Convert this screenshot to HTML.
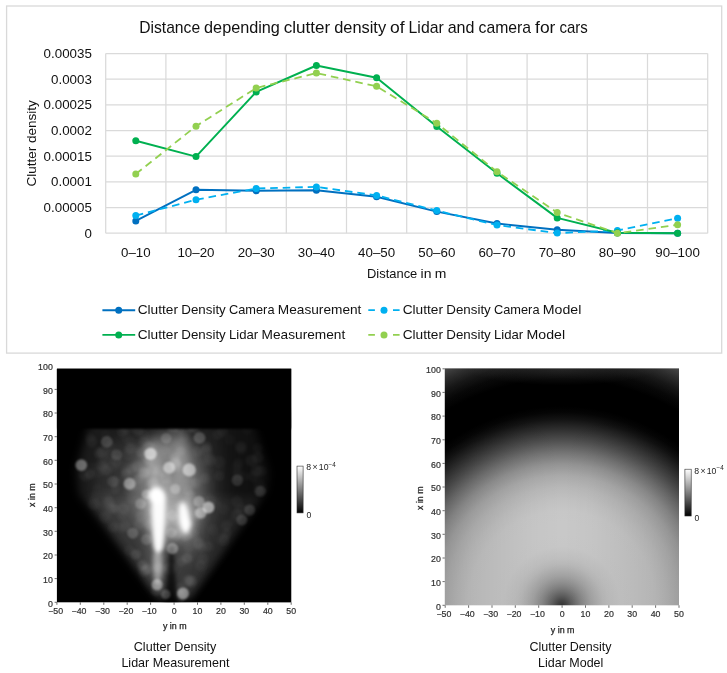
<!DOCTYPE html>
<html lang="en"><head><meta charset="utf-8"><title>Distance depending clutter density of Lidar and camera for cars</title>
<style>html,body{margin:0;padding:0;background:#fff}svg{display:block}text{font-family:"Liberation Sans",Arial,sans-serif}</style></head><body>
<svg width="727" height="673" viewBox="0 0 727 673">
<defs>
<radialGradient id="gm" gradientUnits="userSpaceOnUse" cx="561.8" cy="605.3" r="277.9">
<stop offset="0.0000" stop-color="rgb(51,51,51)"/>
<stop offset="0.0169" stop-color="rgb(69,69,69)"/>
<stop offset="0.0339" stop-color="rgb(92,92,92)"/>
<stop offset="0.0508" stop-color="rgb(112,112,112)"/>
<stop offset="0.0678" stop-color="rgb(130,130,130)"/>
<stop offset="0.0847" stop-color="rgb(145,145,145)"/>
<stop offset="0.1059" stop-color="rgb(161,161,161)"/>
<stop offset="0.1271" stop-color="rgb(173,173,173)"/>
<stop offset="0.1483" stop-color="rgb(184,184,184)"/>
<stop offset="0.1695" stop-color="rgb(191,191,191)"/>
<stop offset="0.2119" stop-color="rgb(199,199,199)"/>
<stop offset="0.2542" stop-color="rgb(200,200,200)"/>
<stop offset="0.2966" stop-color="rgb(200,200,200)"/>
<stop offset="0.3390" stop-color="rgb(199,199,199)"/>
<stop offset="0.3814" stop-color="rgb(193,193,193)"/>
<stop offset="0.4237" stop-color="rgb(184,184,184)"/>
<stop offset="0.4661" stop-color="rgb(170,170,170)"/>
<stop offset="0.5085" stop-color="rgb(147,147,147)"/>
<stop offset="0.5508" stop-color="rgb(115,115,115)"/>
<stop offset="0.5932" stop-color="rgb(79,79,79)"/>
<stop offset="0.6356" stop-color="rgb(45,45,45)"/>
<stop offset="0.6695" stop-color="rgb(19,19,19)"/>
<stop offset="0.6949" stop-color="rgb(5,5,5)"/>
<stop offset="0.7161" stop-color="rgb(0,0,0)"/>
<stop offset="0.8136" stop-color="rgb(0,0,0)"/>
<stop offset="0.8475" stop-color="rgb(9,9,9)"/>
<stop offset="0.8814" stop-color="rgb(26,26,26)"/>
<stop offset="0.9153" stop-color="rgb(51,51,51)"/>
<stop offset="0.9492" stop-color="rgb(82,82,82)"/>
<stop offset="1.0000" stop-color="rgb(117,117,117)"/>
</radialGradient>
<linearGradient id="cb" x1="0" y1="0" x2="0" y2="1"><stop offset="0" stop-color="#fff"/><stop offset="1" stop-color="#000"/></linearGradient>
<radialGradient id="tg"><stop offset="0" stop-color="#fff" stop-opacity="0.12"/><stop offset="1" stop-color="#fff" stop-opacity="0"/></radialGradient>
<linearGradient id="sd" x1="0" y1="0" x2="1" y2="0"><stop offset="0" stop-color="#000" stop-opacity="0.14"/><stop offset="0.12" stop-color="#000" stop-opacity="0.09"/><stop offset="0.25" stop-color="#000" stop-opacity="0.05"/><stop offset="0.38" stop-color="#000" stop-opacity="0.015"/><stop offset="0.5" stop-color="#000" stop-opacity="0"/><stop offset="0.62" stop-color="#000" stop-opacity="0.015"/><stop offset="0.75" stop-color="#000" stop-opacity="0.05"/><stop offset="0.88" stop-color="#000" stop-opacity="0.09"/><stop offset="1" stop-color="#000" stop-opacity="0.14"/></linearGradient>
<linearGradient id="rf" x1="0" y1="0" x2="1" y2="0"><stop offset="0" stop-color="#000" stop-opacity="0"/><stop offset="0.2" stop-color="#000" stop-opacity="0.12"/><stop offset="0.42" stop-color="#000" stop-opacity="0.36"/><stop offset="1" stop-color="#000" stop-opacity="0.5"/></linearGradient>
<clipPath id="cr"><rect x="444.8" y="368.4" width="234.2" height="236.9"/></clipPath>
<clipPath id="cl"><rect x="56.9" y="368.7" width="234.3" height="233.6"/></clipPath>
<filter id="b1" color-interpolation-filters="sRGB" x="-20%" y="-20%" width="140%" height="140%"><feGaussianBlur stdDeviation="1"/></filter>
<filter id="b13" color-interpolation-filters="sRGB" x="-20%" y="-20%" width="140%" height="140%"><feGaussianBlur stdDeviation="1.3"/></filter>
<filter id="b16" color-interpolation-filters="sRGB" x="-20%" y="-20%" width="140%" height="140%"><feGaussianBlur stdDeviation="1.6"/></filter>
<filter id="b2" color-interpolation-filters="sRGB" x="-20%" y="-20%" width="140%" height="140%"><feGaussianBlur stdDeviation="2.2"/></filter>
<filter id="b4" color-interpolation-filters="sRGB" x="-20%" y="-20%" width="140%" height="140%"><feGaussianBlur stdDeviation="4"/></filter>
<filter id="b6" color-interpolation-filters="sRGB" x="-20%" y="-20%" width="140%" height="140%"><feGaussianBlur stdDeviation="5.5"/></filter>
<filter id="b8" color-interpolation-filters="sRGB" x="-30%" y="-30%" width="160%" height="160%"><feGaussianBlur stdDeviation="8"/></filter>
</defs>
<rect width="727" height="673" fill="#fff"/>
<g id="chart">
<rect x="6.6" y="6" width="715.1" height="347.1" fill="#fff" stroke="#d9d9d9" stroke-width="1.3"/>
<g stroke="#dadada" stroke-width="1.25" fill="none">
<line x1="105.7" y1="53.50" x2="707.7" y2="53.50"/>
<line x1="105.7" y1="79.17" x2="707.7" y2="79.17"/>
<line x1="105.7" y1="104.84" x2="707.7" y2="104.84"/>
<line x1="105.7" y1="130.51" x2="707.7" y2="130.51"/>
<line x1="105.7" y1="156.19" x2="707.7" y2="156.19"/>
<line x1="105.7" y1="181.86" x2="707.7" y2="181.86"/>
<line x1="105.7" y1="207.53" x2="707.7" y2="207.53"/>
<line x1="105.7" y1="233.20" x2="707.7" y2="233.20"/>
<line x1="105.70" y1="53.5" x2="105.70" y2="233.2"/>
<line x1="165.90" y1="53.5" x2="165.90" y2="233.2"/>
<line x1="226.10" y1="53.5" x2="226.10" y2="233.2"/>
<line x1="286.30" y1="53.5" x2="286.30" y2="233.2"/>
<line x1="346.50" y1="53.5" x2="346.50" y2="233.2"/>
<line x1="406.70" y1="53.5" x2="406.70" y2="233.2"/>
<line x1="466.90" y1="53.5" x2="466.90" y2="233.2"/>
<line x1="527.10" y1="53.5" x2="527.10" y2="233.2"/>
<line x1="587.30" y1="53.5" x2="587.30" y2="233.2"/>
<line x1="647.50" y1="53.5" x2="647.50" y2="233.2"/>
<line x1="707.70" y1="53.5" x2="707.70" y2="233.2"/>
</g>
<polyline points="135.8,220.9 196.0,189.8 256.2,190.8 316.4,190.2 376.6,196.8 436.8,211.6 497.0,223.5 557.2,229.8 617.4,233.0 677.6,233.2" fill="none" stroke="#0070c0" stroke-width="1.95" stroke-linejoin="round" stroke-linecap="round"/>
<circle cx="135.8" cy="220.9" r="3.5" fill="#0070c0"/>
<circle cx="196.0" cy="189.8" r="3.5" fill="#0070c0"/>
<circle cx="256.2" cy="190.8" r="3.5" fill="#0070c0"/>
<circle cx="316.4" cy="190.2" r="3.5" fill="#0070c0"/>
<circle cx="376.6" cy="196.8" r="3.5" fill="#0070c0"/>
<circle cx="436.8" cy="211.6" r="3.5" fill="#0070c0"/>
<circle cx="497.0" cy="223.5" r="3.5" fill="#0070c0"/>
<circle cx="557.2" cy="229.8" r="3.5" fill="#0070c0"/>
<circle cx="617.4" cy="233.0" r="3.5" fill="#0070c0"/>
<circle cx="677.6" cy="233.2" r="3.5" fill="#0070c0"/>
<polyline points="135.8,215.6 196.0,199.7 256.2,188.5 316.4,186.9 376.6,195.4 436.8,210.6 497.0,225.1 557.2,233.1 617.4,230.5 677.6,218.2" fill="none" stroke="#00b0f0" stroke-width="1.8" stroke-linejoin="round" stroke-linecap="butt" stroke-dasharray="7.6 4.9"/>
<circle cx="135.8" cy="215.6" r="3.5" fill="#00b0f0"/>
<circle cx="196.0" cy="199.7" r="3.5" fill="#00b0f0"/>
<circle cx="256.2" cy="188.5" r="3.5" fill="#00b0f0"/>
<circle cx="316.4" cy="186.9" r="3.5" fill="#00b0f0"/>
<circle cx="376.6" cy="195.4" r="3.5" fill="#00b0f0"/>
<circle cx="436.8" cy="210.6" r="3.5" fill="#00b0f0"/>
<circle cx="497.0" cy="225.1" r="3.5" fill="#00b0f0"/>
<circle cx="557.2" cy="233.1" r="3.5" fill="#00b0f0"/>
<circle cx="617.4" cy="230.5" r="3.5" fill="#00b0f0"/>
<circle cx="677.6" cy="218.2" r="3.5" fill="#00b0f0"/>
<polyline points="135.8,140.8 196.0,156.6 256.2,91.9 316.4,65.5 376.6,77.7 436.8,126.6 497.0,173.3 557.2,217.9 617.4,232.8 677.6,233.2" fill="none" stroke="#00b050" stroke-width="1.95" stroke-linejoin="round" stroke-linecap="round"/>
<circle cx="135.8" cy="140.8" r="3.5" fill="#00b050"/>
<circle cx="196.0" cy="156.6" r="3.5" fill="#00b050"/>
<circle cx="256.2" cy="91.9" r="3.5" fill="#00b050"/>
<circle cx="316.4" cy="65.5" r="3.5" fill="#00b050"/>
<circle cx="376.6" cy="77.7" r="3.5" fill="#00b050"/>
<circle cx="436.8" cy="126.6" r="3.5" fill="#00b050"/>
<circle cx="497.0" cy="173.3" r="3.5" fill="#00b050"/>
<circle cx="557.2" cy="217.9" r="3.5" fill="#00b050"/>
<circle cx="617.4" cy="232.8" r="3.5" fill="#00b050"/>
<circle cx="677.6" cy="233.2" r="3.5" fill="#00b050"/>
<polyline points="135.8,174.0 196.0,126.2 256.2,88.0 316.4,73.1 376.6,86.3 436.8,123.3 497.0,171.7 557.2,212.6 617.4,233.2 677.6,224.8" fill="none" stroke="#92d050" stroke-width="1.8" stroke-linejoin="round" stroke-linecap="butt" stroke-dasharray="7.6 4.9"/>
<circle cx="135.8" cy="174.0" r="3.5" fill="#92d050"/>
<circle cx="196.0" cy="126.2" r="3.5" fill="#92d050"/>
<circle cx="256.2" cy="88.0" r="3.5" fill="#92d050"/>
<circle cx="316.4" cy="73.1" r="3.5" fill="#92d050"/>
<circle cx="376.6" cy="86.3" r="3.5" fill="#92d050"/>
<circle cx="436.8" cy="123.3" r="3.5" fill="#92d050"/>
<circle cx="497.0" cy="171.7" r="3.5" fill="#92d050"/>
<circle cx="557.2" cy="212.6" r="3.5" fill="#92d050"/>
<circle cx="617.4" cy="233.2" r="3.5" fill="#92d050"/>
<circle cx="677.6" cy="224.8" r="3.5" fill="#92d050"/>
<text y="33.1" font-size="15.9" fill="#111" ><tspan x="139.2" textLength="60.9" lengthAdjust="spacingAndGlyphs">Distance</tspan> <tspan x="204.1" textLength="75.8" lengthAdjust="spacingAndGlyphs">depending</tspan> <tspan x="283.8" textLength="46.4" lengthAdjust="spacingAndGlyphs">clutter</tspan> <tspan x="334.2" textLength="51.9" lengthAdjust="spacingAndGlyphs">density</tspan> <tspan x="390.1" textLength="14.6" lengthAdjust="spacingAndGlyphs">of</tspan> <tspan x="408.6" textLength="35.1" lengthAdjust="spacingAndGlyphs">Lidar</tspan> <tspan x="447.7" textLength="26.8" lengthAdjust="spacingAndGlyphs">and</tspan> <tspan x="478.5" textLength="52.6" lengthAdjust="spacingAndGlyphs">camera</tspan> <tspan x="535.1" textLength="20.3" lengthAdjust="spacingAndGlyphs">for</tspan> <tspan x="559.4" textLength="28.3" lengthAdjust="spacingAndGlyphs">cars</tspan></text>
<text x="91.9" y="57.9" font-size="12.8" fill="#111" text-anchor="end" textLength="48.3" lengthAdjust="spacingAndGlyphs" >0.00035</text>
<text x="91.9" y="83.6" font-size="12.8" fill="#111" text-anchor="end" textLength="40.9" lengthAdjust="spacingAndGlyphs" >0.0003</text>
<text x="91.9" y="109.2" font-size="12.8" fill="#111" text-anchor="end" textLength="48.3" lengthAdjust="spacingAndGlyphs" >0.00025</text>
<text x="91.9" y="134.9" font-size="12.8" fill="#111" text-anchor="end" textLength="40.9" lengthAdjust="spacingAndGlyphs" >0.0002</text>
<text x="91.9" y="160.6" font-size="12.8" fill="#111" text-anchor="end" textLength="48.3" lengthAdjust="spacingAndGlyphs" >0.00015</text>
<text x="91.9" y="186.3" font-size="12.8" fill="#111" text-anchor="end" textLength="40.9" lengthAdjust="spacingAndGlyphs" >0.0001</text>
<text x="91.9" y="211.9" font-size="12.8" fill="#111" text-anchor="end" textLength="48.3" lengthAdjust="spacingAndGlyphs" >0.00005</text>
<text x="91.9" y="237.6" font-size="12.8" fill="#111" text-anchor="end" textLength="7.4" lengthAdjust="spacingAndGlyphs" >0</text>
<text x="135.8" y="256.8" font-size="12.8" fill="#111" text-anchor="middle" textLength="29.6" lengthAdjust="spacingAndGlyphs" >0–10</text>
<text x="196.0" y="256.8" font-size="12.8" fill="#111" text-anchor="middle" textLength="37.1" lengthAdjust="spacingAndGlyphs" >10–20</text>
<text x="256.2" y="256.8" font-size="12.8" fill="#111" text-anchor="middle" textLength="37.1" lengthAdjust="spacingAndGlyphs" >20–30</text>
<text x="316.4" y="256.8" font-size="12.8" fill="#111" text-anchor="middle" textLength="37.1" lengthAdjust="spacingAndGlyphs" >30–40</text>
<text x="376.6" y="256.8" font-size="12.8" fill="#111" text-anchor="middle" textLength="37.1" lengthAdjust="spacingAndGlyphs" >40–50</text>
<text x="436.8" y="256.8" font-size="12.8" fill="#111" text-anchor="middle" textLength="37.1" lengthAdjust="spacingAndGlyphs" >50–60</text>
<text x="497.0" y="256.8" font-size="12.8" fill="#111" text-anchor="middle" textLength="37.1" lengthAdjust="spacingAndGlyphs" >60–70</text>
<text x="557.2" y="256.8" font-size="12.8" fill="#111" text-anchor="middle" textLength="37.1" lengthAdjust="spacingAndGlyphs" >70–80</text>
<text x="617.4" y="256.8" font-size="12.8" fill="#111" text-anchor="middle" textLength="37.1" lengthAdjust="spacingAndGlyphs" >80–90</text>
<text x="677.6" y="256.8" font-size="12.8" fill="#111" text-anchor="middle" textLength="44.5" lengthAdjust="spacingAndGlyphs" >90–100</text>
<text y="278.3" font-size="12.9" fill="#111" ><tspan x="367.0" textLength="50.3" lengthAdjust="spacingAndGlyphs">Distance</tspan> <tspan x="420.6" textLength="10.9" lengthAdjust="spacingAndGlyphs">in</tspan> <tspan x="434.8" textLength="11.6" lengthAdjust="spacingAndGlyphs">m</tspan></text>
<text transform="translate(36.1 143.3) rotate(-90)" font-size="12.8" fill="#111" text-anchor="middle" textLength="86.3" lengthAdjust="spacingAndGlyphs">Clutter density</text>
<path d="M102.4 310.2h32.8" stroke="#0070c0" stroke-width="1.9" fill="none"/>
<circle cx="118.7" cy="310.2" r="3.5" fill="#0070c0"/>
<path d="M102.4 334.9h32.8" stroke="#00b050" stroke-width="1.9" fill="none"/>
<circle cx="118.7" cy="334.9" r="3.5" fill="#00b050"/>
<path d="M368.3 310.2h6.6M393.0 310.2h6.6" stroke="#00b0f0" stroke-width="1.7" fill="none"/>
<circle cx="384.0" cy="310.2" r="3.5" fill="#00b0f0"/>
<path d="M368.3 334.9h6.6M393.0 334.9h6.6" stroke="#92d050" stroke-width="1.7" fill="none"/>
<circle cx="384.0" cy="334.9" r="3.5" fill="#92d050"/>
<text y="314.1" font-size="12.9" fill="#111" ><tspan x="137.7" textLength="40.3" lengthAdjust="spacingAndGlyphs">Clutter</tspan> <tspan x="181.3" textLength="44.5" lengthAdjust="spacingAndGlyphs">Density</tspan> <tspan x="229.0" textLength="45.5" lengthAdjust="spacingAndGlyphs">Camera</tspan> <tspan x="277.8" textLength="83.6" lengthAdjust="spacingAndGlyphs">Measurement</tspan></text>
<text y="339.4" font-size="12.9" fill="#111" ><tspan x="137.7" textLength="40.3" lengthAdjust="spacingAndGlyphs">Clutter</tspan> <tspan x="181.3" textLength="44.5" lengthAdjust="spacingAndGlyphs">Density</tspan> <tspan x="229.0" textLength="29.2" lengthAdjust="spacingAndGlyphs">Lidar</tspan> <tspan x="261.6" textLength="83.6" lengthAdjust="spacingAndGlyphs">Measurement</tspan></text>
<text y="314.1" font-size="12.9" fill="#111" ><tspan x="402.7" textLength="40.3" lengthAdjust="spacingAndGlyphs">Clutter</tspan> <tspan x="446.3" textLength="44.5" lengthAdjust="spacingAndGlyphs">Density</tspan> <tspan x="494.0" textLength="45.5" lengthAdjust="spacingAndGlyphs">Camera</tspan> <tspan x="542.8" textLength="38.5" lengthAdjust="spacingAndGlyphs">Model</tspan></text>
<text y="339.4" font-size="12.9" fill="#111" ><tspan x="402.7" textLength="40.3" lengthAdjust="spacingAndGlyphs">Clutter</tspan> <tspan x="446.3" textLength="44.5" lengthAdjust="spacingAndGlyphs">Density</tspan> <tspan x="494.0" textLength="29.2" lengthAdjust="spacingAndGlyphs">Lidar</tspan> <tspan x="526.6" textLength="38.5" lengthAdjust="spacingAndGlyphs">Model</tspan></text>
</g>
<g id="heat-measure">
<rect x="56.9" y="368.7" width="234.3" height="233.6" fill="#000"/>
<g clip-path="url(#cl)">
<g filter="url(#b4)">
<polygon points="90,420 253,420 269.5,472 267,492 190,600 158,600 79,494 76.5,469" fill="#1b1b1b"/>
</g>
<g filter="url(#b8)">
<polygon points="110,440 215,430 225,492 188,592 160,592 95,492" fill="#fff" opacity="0.06"/>
</g>
<g filter="url(#b4)">
<polygon points="86,497 262,497 191,598 157,598" fill="#fff" opacity="0.085"/>
</g>
<g filter="url(#b8)" fill="#fff">
<ellipse cx="169" cy="488" rx="40" ry="56" opacity="0.22"/>
<ellipse cx="135" cy="482" rx="42" ry="42" opacity="0.04"/>
<ellipse cx="168" cy="486" rx="27" ry="50" opacity="0.21"/>
<ellipse cx="158" cy="556" rx="9" ry="30" opacity="0.2"/>
<ellipse cx="190" cy="530" rx="12" ry="30" opacity="0.12"/>
</g>
<g filter="url(#b4)" fill="#000">
<rect x="196" y="410" width="110" height="200" fill="url(#rf)"/>
</g>
<g filter="url(#b16)" fill="#fff">
<circle cx="140.8" cy="452.2" r="4.9" opacity="0.079"/>
<circle cx="182.0" cy="489.6" r="5.4" opacity="0.036"/>
<circle cx="91.6" cy="441.8" r="5.8" opacity="0.035"/>
<circle cx="102.0" cy="464.8" r="5.9" opacity="0.043"/>
<circle cx="190.0" cy="495.0" r="4.9" opacity="0.102"/>
<circle cx="244.5" cy="476.4" r="4.9" opacity="0.019"/>
<circle cx="113.1" cy="527.2" r="5.2" opacity="0.044"/>
<circle cx="184.3" cy="436.9" r="5.0" opacity="0.036"/>
<circle cx="210.0" cy="500.4" r="5.5" opacity="0.031"/>
<circle cx="165.9" cy="478.2" r="5.6" opacity="0.089"/>
<circle cx="125.4" cy="525.9" r="5.9" opacity="0.039"/>
<circle cx="219.5" cy="476.1" r="4.9" opacity="0.045"/>
<circle cx="159.1" cy="557.7" r="5.4" opacity="0.043"/>
<circle cx="226.3" cy="525.7" r="5.2" opacity="0.042"/>
<circle cx="212.9" cy="529.4" r="5.3" opacity="0.032"/>
<circle cx="170.0" cy="541.6" r="5.6" opacity="0.036"/>
<circle cx="237.5" cy="475.5" r="5.6" opacity="0.026"/>
<circle cx="110.6" cy="446.4" r="5.7" opacity="0.020"/>
<circle cx="103.1" cy="469.1" r="5.8" opacity="0.034"/>
<circle cx="93.6" cy="504.2" r="5.9" opacity="0.040"/>
<circle cx="132.0" cy="498.3" r="5.9" opacity="0.033"/>
<circle cx="112.2" cy="466.4" r="5.4" opacity="0.027"/>
<circle cx="192.3" cy="471.7" r="5.3" opacity="0.032"/>
<circle cx="149.6" cy="524.5" r="5.6" opacity="0.101"/>
<circle cx="178.0" cy="533.5" r="4.9" opacity="0.081"/>
<circle cx="154.1" cy="495.4" r="5.6" opacity="0.039"/>
<circle cx="90.1" cy="437.7" r="5.0" opacity="0.026"/>
<circle cx="144.0" cy="435.1" r="5.0" opacity="0.032"/>
<circle cx="97.7" cy="489.3" r="5.8" opacity="0.019"/>
<circle cx="197.1" cy="451.8" r="5.2" opacity="0.050"/>
<circle cx="148.6" cy="447.4" r="6.0" opacity="0.093"/>
<circle cx="168.4" cy="510.2" r="4.9" opacity="0.038"/>
<circle cx="144.5" cy="472.1" r="5.0" opacity="0.092"/>
<circle cx="180.5" cy="451.5" r="4.8" opacity="0.071"/>
<circle cx="180.5" cy="596.3" r="5.6" opacity="0.094"/>
<circle cx="128.7" cy="489.8" r="5.7" opacity="0.025"/>
<circle cx="181.3" cy="561.6" r="5.1" opacity="0.056"/>
<circle cx="122.0" cy="516.1" r="4.8" opacity="0.032"/>
<circle cx="83.4" cy="474.6" r="5.6" opacity="0.028"/>
<circle cx="263.3" cy="489.4" r="5.1" opacity="0.021"/>
<circle cx="116.2" cy="461.6" r="5.9" opacity="0.043"/>
<circle cx="241.0" cy="509.4" r="5.8" opacity="0.035"/>
<circle cx="223.5" cy="509.2" r="5.7" opacity="0.020"/>
<circle cx="142.5" cy="565.3" r="5.3" opacity="0.102"/>
<circle cx="155.9" cy="590.7" r="5.0" opacity="0.084"/>
<circle cx="102.6" cy="452.3" r="5.8" opacity="0.055"/>
<circle cx="146.0" cy="521.5" r="4.8" opacity="0.041"/>
<circle cx="180.2" cy="588.5" r="5.8" opacity="0.063"/>
<circle cx="238.3" cy="462.7" r="5.2" opacity="0.022"/>
<circle cx="124.7" cy="528.0" r="5.3" opacity="0.029"/>
<circle cx="146.6" cy="505.7" r="5.9" opacity="0.074"/>
<circle cx="159.6" cy="585.7" r="5.4" opacity="0.068"/>
<circle cx="179.6" cy="429.3" r="5.0" opacity="0.064"/>
<circle cx="111.4" cy="508.4" r="5.5" opacity="0.047"/>
<circle cx="141.2" cy="516.2" r="5.7" opacity="0.072"/>
<circle cx="126.2" cy="474.2" r="5.4" opacity="0.049"/>
<circle cx="187.0" cy="558.2" r="5.3" opacity="0.098"/>
<circle cx="196.8" cy="514.0" r="5.6" opacity="0.069"/>
<circle cx="165.8" cy="518.8" r="5.9" opacity="0.066"/>
<circle cx="260.8" cy="471.2" r="5.9" opacity="0.032"/>
<circle cx="241.0" cy="449.9" r="5.3" opacity="0.018"/>
<circle cx="92.1" cy="467.9" r="5.6" opacity="0.021"/>
<circle cx="206.1" cy="450.9" r="6.0" opacity="0.054"/>
<circle cx="155.3" cy="510.8" r="5.8" opacity="0.103"/>
<circle cx="109.3" cy="501.1" r="5.2" opacity="0.039"/>
<circle cx="116.0" cy="481.4" r="4.8" opacity="0.047"/>
<circle cx="185.5" cy="502.6" r="5.2" opacity="0.033"/>
<circle cx="199.0" cy="515.1" r="6.0" opacity="0.037"/>
<circle cx="98.3" cy="472.2" r="5.7" opacity="0.020"/>
<circle cx="130.5" cy="448.5" r="5.9" opacity="0.035"/>
<circle cx="236.9" cy="471.0" r="5.9" opacity="0.019"/>
<circle cx="188.7" cy="547.9" r="4.9" opacity="0.038"/>
<circle cx="211.5" cy="500.0" r="5.9" opacity="0.016"/>
<circle cx="201.1" cy="565.5" r="5.8" opacity="0.038"/>
<circle cx="166.0" cy="485.0" r="5.9" opacity="0.072"/>
<circle cx="130.0" cy="448.5" r="5.1" opacity="0.039"/>
<circle cx="99.2" cy="454.1" r="5.0" opacity="0.020"/>
<circle cx="138.5" cy="479.1" r="5.1" opacity="0.087"/>
<circle cx="175.0" cy="457.0" r="4.8" opacity="0.057"/>
<circle cx="126.6" cy="428.7" r="5.5" opacity="0.048"/>
<circle cx="114.8" cy="508.6" r="4.9" opacity="0.056"/>
<circle cx="236.9" cy="501.2" r="5.8" opacity="0.030"/>
<circle cx="154.3" cy="514.2" r="6.0" opacity="0.082"/>
<circle cx="144.5" cy="570.8" r="5.6" opacity="0.083"/>
<circle cx="156.5" cy="486.5" r="5.0" opacity="0.036"/>
<circle cx="127.6" cy="454.4" r="5.8" opacity="0.021"/>
<circle cx="132.7" cy="468.1" r="5.4" opacity="0.030"/>
<circle cx="108.6" cy="503.6" r="6.0" opacity="0.029"/>
<circle cx="138.1" cy="488.0" r="5.3" opacity="0.032"/>
<circle cx="170.1" cy="513.5" r="5.4" opacity="0.046"/>
<circle cx="95.4" cy="495.5" r="4.8" opacity="0.020"/>
<circle cx="137.0" cy="466.5" r="5.4" opacity="0.074"/>
<circle cx="223.6" cy="540.4" r="5.9" opacity="0.037"/>
<circle cx="153.6" cy="482.7" r="5.0" opacity="0.103"/>
<circle cx="218.5" cy="537.9" r="5.8" opacity="0.015"/>
<circle cx="105.0" cy="517.1" r="5.8" opacity="0.038"/>
<circle cx="191.3" cy="581.4" r="5.6" opacity="0.081"/>
<circle cx="122.6" cy="431.4" r="5.2" opacity="0.023"/>
<circle cx="186.4" cy="535.2" r="5.6" opacity="0.077"/>
<circle cx="172.9" cy="426.6" r="5.7" opacity="0.089"/>
<circle cx="175.6" cy="519.1" r="4.9" opacity="0.079"/>
<circle cx="220.9" cy="469.9" r="5.1" opacity="0.016"/>
<circle cx="219.5" cy="461.7" r="6.0" opacity="0.037"/>
<circle cx="173.8" cy="492.6" r="5.6" opacity="0.066"/>
<circle cx="226.8" cy="533.4" r="4.9" opacity="0.034"/>
<circle cx="106.6" cy="470.2" r="5.2" opacity="0.048"/>
<circle cx="188.1" cy="428.2" r="5.1" opacity="0.036"/>
<circle cx="208.4" cy="546.4" r="5.1" opacity="0.045"/>
<circle cx="178.2" cy="506.9" r="4.9" opacity="0.066"/>
<circle cx="251.4" cy="460.7" r="5.9" opacity="0.045"/>
<circle cx="165.2" cy="472.7" r="5.9" opacity="0.047"/>
<circle cx="118.9" cy="527.2" r="5.4" opacity="0.024"/>
<circle cx="237.1" cy="514.5" r="5.6" opacity="0.042"/>
<circle cx="172.3" cy="430.3" r="5.4" opacity="0.032"/>
<circle cx="165.4" cy="478.5" r="5.2" opacity="0.042"/>
<circle cx="240.8" cy="446.9" r="5.7" opacity="0.043"/>
<circle cx="252.9" cy="476.4" r="5.3" opacity="0.026"/>
<circle cx="148.0" cy="500.5" r="4.9" opacity="0.052"/>
<circle cx="126.4" cy="472.2" r="5.0" opacity="0.039"/>
<circle cx="217.6" cy="434.6" r="5.3" opacity="0.037"/>
<circle cx="224.0" cy="538.1" r="4.9" opacity="0.023"/>
<circle cx="257.8" cy="448.2" r="5.2" opacity="0.029"/>
<circle cx="135.8" cy="554.6" r="5.1" opacity="0.102"/>
<circle cx="205.3" cy="478.3" r="5.3" opacity="0.041"/>
<circle cx="110.5" cy="454.1" r="5.9" opacity="0.026"/>
<circle cx="174.4" cy="464.3" r="6.0" opacity="0.097"/>
<circle cx="165.3" cy="450.3" r="4.9" opacity="0.046"/>
<circle cx="144.3" cy="441.9" r="5.1" opacity="0.049"/>
<circle cx="188.5" cy="580.4" r="5.3" opacity="0.086"/>
<circle cx="158.3" cy="517.2" r="5.2" opacity="0.059"/>
<circle cx="90.0" cy="474.3" r="5.0" opacity="0.057"/>
<circle cx="175.7" cy="535.6" r="5.1" opacity="0.094"/>
<circle cx="130.6" cy="469.2" r="5.3" opacity="0.034"/>
<circle cx="247.3" cy="429.8" r="5.7" opacity="0.015"/>
<circle cx="191.9" cy="426.0" r="5.9" opacity="0.060"/>
<circle cx="99.2" cy="452.9" r="5.6" opacity="0.039"/>
<circle cx="203.6" cy="559.1" r="5.5" opacity="0.037"/>
<circle cx="203.2" cy="478.9" r="5.1" opacity="0.023"/>
<circle cx="201.4" cy="547.6" r="4.9" opacity="0.040"/>
<circle cx="179.7" cy="527.4" r="5.1" opacity="0.060"/>
<circle cx="194.6" cy="427.8" r="5.4" opacity="0.054"/>
<circle cx="249.5" cy="508.7" r="5.1" opacity="0.021"/>
<circle cx="137.6" cy="429.8" r="5.6" opacity="0.068"/>
<circle cx="159.5" cy="470.8" r="5.9" opacity="0.080"/>
<circle cx="122.0" cy="431.9" r="5.3" opacity="0.032"/>
<circle cx="210.4" cy="460.5" r="5.7" opacity="0.039"/>
<circle cx="175.9" cy="461.7" r="5.2" opacity="0.102"/>
<circle cx="237.1" cy="466.2" r="5.7" opacity="0.021"/>
<circle cx="174.2" cy="458.6" r="5.3" opacity="0.048"/>
<circle cx="106.4" cy="494.5" r="6.0" opacity="0.027"/>
<circle cx="105.5" cy="435.0" r="5.3" opacity="0.020"/>
<circle cx="258.7" cy="483.3" r="5.9" opacity="0.020"/>
<circle cx="222.8" cy="431.5" r="5.3" opacity="0.035"/>
<circle cx="150.5" cy="483.7" r="4.8" opacity="0.044"/>
<circle cx="132.3" cy="487.2" r="4.9" opacity="0.057"/>
<circle cx="147.2" cy="569.0" r="5.3" opacity="0.091"/>
<circle cx="115.4" cy="489.4" r="4.8" opacity="0.054"/>
<circle cx="157.7" cy="567.3" r="4.8" opacity="0.087"/>
<circle cx="256.5" cy="470.7" r="5.9" opacity="0.038"/>
<circle cx="143.8" cy="473.4" r="5.5" opacity="0.101"/>
<circle cx="128.9" cy="550.7" r="5.1" opacity="0.031"/>
<circle cx="123.4" cy="508.7" r="5.9" opacity="0.057"/>
<circle cx="153.0" cy="469.7" r="5.4" opacity="0.063"/>
<circle cx="258.1" cy="457.8" r="5.7" opacity="0.039"/>
<circle cx="195.8" cy="483.0" r="5.2" opacity="0.055"/>
<circle cx="229.8" cy="439.7" r="5.7" opacity="0.020"/>
<circle cx="126.0" cy="437.3" r="5.5" opacity="0.019"/>
<circle cx="129.4" cy="440.6" r="5.4" opacity="0.022"/>
<circle cx="215.7" cy="503.8" r="5.3" opacity="0.021"/>
<circle cx="198.3" cy="543.3" r="5.8" opacity="0.086"/>
<circle cx="206.9" cy="447.1" r="5.2" opacity="0.052"/>
<circle cx="188.0" cy="490.9" r="5.0" opacity="0.085"/>
<circle cx="126.0" cy="468.7" r="5.9" opacity="0.024"/>
<circle cx="190.2" cy="482.8" r="6.0" opacity="0.061"/>
<circle cx="176.4" cy="466.3" r="5.6" opacity="0.090"/>
<circle cx="170.1" cy="568.5" r="5.9" opacity="0.093"/>
<circle cx="85.8" cy="477.1" r="5.0" opacity="0.023"/>
<circle cx="258.5" cy="490.8" r="5.3" opacity="0.041"/>
<circle cx="193.7" cy="533.9" r="5.2" opacity="0.048"/>
<circle cx="105.4" cy="461.5" r="5.5" opacity="0.028"/>
<circle cx="204.4" cy="461.4" r="5.2" opacity="0.018"/>
<circle cx="209.6" cy="458.2" r="5.0" opacity="0.031"/>
<circle cx="232.3" cy="521.4" r="4.9" opacity="0.016"/>
<circle cx="154.7" cy="521.7" r="4.9" opacity="0.078"/>
<circle cx="157.5" cy="475.3" r="5.9" opacity="0.054"/>
<circle cx="138.6" cy="524.6" r="5.3" opacity="0.058"/>
<circle cx="148.6" cy="460.3" r="5.0" opacity="0.084"/>
<circle cx="160.2" cy="568.7" r="5.9" opacity="0.061"/>
<circle cx="167.4" cy="454.3" r="5.5" opacity="0.033"/>
<circle cx="149.9" cy="513.8" r="5.1" opacity="0.043"/>
</g>
<g filter="url(#b4)" fill="#fff">
<ellipse cx="158" cy="514" rx="9" ry="32" opacity="0.45"/>
<ellipse cx="184.5" cy="518" rx="8.5" ry="21" opacity="0.42"/>
<ellipse cx="153" cy="466" rx="7" ry="26" opacity="0.25"/>
<ellipse cx="181" cy="462" rx="7" ry="32" opacity="0.2"/>
<ellipse cx="170.5" cy="505" rx="7" ry="26" opacity="0.2"/>
</g>
<g filter="url(#b2)" fill="#000">
<polygon points="170,546 173,546 178,606 164,606" opacity="0.72"/>
</g>
<g filter="url(#b2)" fill="#fff">
<path d="M151.8 497 C151.8 487 165 487 165.5 497 L163.6 545 C163.2 555 153.8 555 153.4 545Z" opacity="0.95"/>
<ellipse cx="156.3" cy="495.5" rx="7.8" ry="8.6"/>
<ellipse cx="157.5" cy="565" rx="4.8" ry="20" opacity="0.42"/>
<ellipse cx="184.2" cy="518" rx="5.2" ry="15.5" opacity="0.94" transform="rotate(-7 184.2 518)"/>
<ellipse cx="186" cy="524" rx="5.2" ry="7" opacity="0.8"/>
</g>
<g filter="url(#b1)" fill="#fff">
<circle cx="81.3" cy="465.1" r="5.9" opacity="0.36"/>
<circle cx="106.8" cy="441.9" r="5.9" opacity="0.17"/>
<circle cx="150.5" cy="453.9" r="6.2" opacity="0.55"/>
<circle cx="169.2" cy="467.8" r="6" opacity="0.48"/>
<circle cx="129.6" cy="483.8" r="6" opacity="0.4"/>
<circle cx="116.6" cy="454.8" r="5.5" opacity="0.11"/>
<circle cx="113" cy="481.5" r="5.5" opacity="0.09"/>
<circle cx="140.7" cy="503.8" r="5.5" opacity="0.2"/>
<circle cx="132.7" cy="533.2" r="5.5" opacity="0.18"/>
<circle cx="199.5" cy="437.8" r="5.9" opacity="0.2"/>
<circle cx="189.2" cy="469.9" r="6.6" opacity="0.5"/>
<circle cx="208.4" cy="507.4" r="6" opacity="0.52"/>
<circle cx="200.8" cy="512.8" r="5.8" opacity="0.42"/>
<circle cx="199" cy="501.5" r="5.6" opacity="0.3"/>
<circle cx="146.7" cy="494.4" r="5" opacity="0.3"/>
<circle cx="237.3" cy="480.3" r="5.7" opacity="0.13"/>
<circle cx="260.5" cy="491.3" r="5.5" opacity="0.11"/>
<circle cx="249.8" cy="510" r="5.5" opacity="0.13"/>
<circle cx="241.8" cy="519.9" r="5.5" opacity="0.14"/>
<circle cx="172.4" cy="548.5" r="5.8" opacity="0.33"/>
<circle cx="146.4" cy="539.5" r="5.4" opacity="0.15"/>
<circle cx="157" cy="584.7" r="5.6" opacity="0.38"/>
<circle cx="183" cy="593.4" r="6" opacity="0.42"/>
<circle cx="165.7" cy="594.4" r="4.8" opacity="0.2"/>
<circle cx="172.4" cy="515.4" r="5.4" opacity="0.13"/>
<circle cx="171.5" cy="532.7" r="5.4" opacity="0.18"/>
<circle cx="175.3" cy="489.1" r="5" opacity="0.25"/>
<circle cx="166.2" cy="438.3" r="5.4" opacity="0.15"/>
</g>
<g filter="url(#b13)"><rect x="40" y="350" width="270" height="78.8" fill="#000"/></g>
</g>
<g stroke="#4a4a4a" stroke-width="0.8" fill="none">
<line x1="54.6" y1="602.3" x2="56.9" y2="602.3"/>
<line x1="54.6" y1="578.6" x2="56.9" y2="578.6"/>
<line x1="54.6" y1="555.0" x2="56.9" y2="555.0"/>
<line x1="54.6" y1="531.3" x2="56.9" y2="531.3"/>
<line x1="54.6" y1="507.7" x2="56.9" y2="507.7"/>
<line x1="54.6" y1="484.0" x2="56.9" y2="484.0"/>
<line x1="54.6" y1="460.3" x2="56.9" y2="460.3"/>
<line x1="54.6" y1="436.7" x2="56.9" y2="436.7"/>
<line x1="54.6" y1="413.0" x2="56.9" y2="413.0"/>
<line x1="54.6" y1="389.4" x2="56.9" y2="389.4"/>
<line x1="56.9" y1="602.3" x2="56.9" y2="604.8"/>
<line x1="80.3" y1="602.3" x2="80.3" y2="604.8"/>
<line x1="103.8" y1="602.3" x2="103.8" y2="604.8"/>
<line x1="127.2" y1="602.3" x2="127.2" y2="604.8"/>
<line x1="150.6" y1="602.3" x2="150.6" y2="604.8"/>
<line x1="174.1" y1="602.3" x2="174.1" y2="604.8"/>
<line x1="197.5" y1="602.3" x2="197.5" y2="604.8"/>
<line x1="220.9" y1="602.3" x2="220.9" y2="604.8"/>
<line x1="244.3" y1="602.3" x2="244.3" y2="604.8"/>
<line x1="267.8" y1="602.3" x2="267.8" y2="604.8"/>
<line x1="291.2" y1="602.3" x2="291.2" y2="604.8"/>
</g>
<text x="52.8" y="606.5" font-size="8.8" fill="#303030" text-anchor="end" stroke="#303030" stroke-width="0.2">0</text>
<text x="52.8" y="582.8" font-size="8.8" fill="#303030" text-anchor="end" stroke="#303030" stroke-width="0.2">10</text>
<text x="52.8" y="559.2" font-size="8.8" fill="#303030" text-anchor="end" stroke="#303030" stroke-width="0.2">20</text>
<text x="52.8" y="535.5" font-size="8.8" fill="#303030" text-anchor="end" stroke="#303030" stroke-width="0.2">30</text>
<text x="52.8" y="511.9" font-size="8.8" fill="#303030" text-anchor="end" stroke="#303030" stroke-width="0.2">40</text>
<text x="52.8" y="488.2" font-size="8.8" fill="#303030" text-anchor="end" stroke="#303030" stroke-width="0.2">50</text>
<text x="52.8" y="464.5" font-size="8.8" fill="#303030" text-anchor="end" stroke="#303030" stroke-width="0.2">60</text>
<text x="52.8" y="440.9" font-size="8.8" fill="#303030" text-anchor="end" stroke="#303030" stroke-width="0.2">70</text>
<text x="52.8" y="417.2" font-size="8.8" fill="#303030" text-anchor="end" stroke="#303030" stroke-width="0.2">80</text>
<text x="52.8" y="393.6" font-size="8.8" fill="#303030" text-anchor="end" stroke="#303030" stroke-width="0.2">90</text>
<text x="52.8" y="370.1" font-size="8.8" fill="#303030" text-anchor="end" stroke="#303030" stroke-width="0.2">100</text>
<text x="55.6" y="614.1" font-size="8.8" fill="#303030" text-anchor="middle" stroke="#303030" stroke-width="0.2">−50</text>
<text x="79.0" y="614.1" font-size="8.8" fill="#303030" text-anchor="middle" stroke="#303030" stroke-width="0.2">−40</text>
<text x="102.5" y="614.1" font-size="8.8" fill="#303030" text-anchor="middle" stroke="#303030" stroke-width="0.2">−30</text>
<text x="125.9" y="614.1" font-size="8.8" fill="#303030" text-anchor="middle" stroke="#303030" stroke-width="0.2">−20</text>
<text x="149.3" y="614.1" font-size="8.8" fill="#303030" text-anchor="middle" stroke="#303030" stroke-width="0.2">−10</text>
<text x="174.1" y="614.1" font-size="8.8" fill="#303030" text-anchor="middle" stroke="#303030" stroke-width="0.2">0</text>
<text x="197.5" y="614.1" font-size="8.8" fill="#303030" text-anchor="middle" stroke="#303030" stroke-width="0.2">10</text>
<text x="220.9" y="614.1" font-size="8.8" fill="#303030" text-anchor="middle" stroke="#303030" stroke-width="0.2">20</text>
<text x="244.3" y="614.1" font-size="8.8" fill="#303030" text-anchor="middle" stroke="#303030" stroke-width="0.2">30</text>
<text x="267.8" y="614.1" font-size="8.8" fill="#303030" text-anchor="middle" stroke="#303030" stroke-width="0.2">40</text>
<text x="291.2" y="614.1" font-size="8.8" fill="#303030" text-anchor="middle" stroke="#303030" stroke-width="0.2">50</text>
<text x="174.8" y="629.4" font-size="8.9" fill="#222" text-anchor="middle" stroke="#222" stroke-width="0.25">y in m</text>
<text transform="translate(35 495.1) rotate(-90)" font-size="8.9" fill="#222" stroke="#222" stroke-width="0.25" text-anchor="middle">x in m</text>
<rect x="297" y="466.1" width="6.1" height="46.8" fill="url(#cb)" stroke="#303030" stroke-width="0.6"/>
<text y="470.4" font-size="8.7" fill="#222"><tspan x="306.3">8</tspan><tspan x="312.6">×</tspan><tspan x="318.8">10</tspan><tspan x="328.6" dy="-3.8" font-size="6.3">−4</tspan></text>
<text x="306.5" y="517.6" font-size="8.6" fill="#222" text-anchor="start" >0</text>
<text x="175" y="651.2" font-size="13" fill="#111" text-anchor="middle" textLength="82.5" lengthAdjust="spacingAndGlyphs" >Clutter Density</text>
<text x="175.4" y="666.8" font-size="13" fill="#111" text-anchor="middle" textLength="108" lengthAdjust="spacingAndGlyphs" >Lidar Measurement</text>
</g>
<g id="heat-model">
<rect x="444.8" y="368.4" width="234.2" height="236.9" fill="url(#gm)"/>
<rect x="444.8" y="368.4" width="234.2" height="236.9" fill="url(#sd)"/>
<ellipse cx="561.8" cy="368.4" rx="95" ry="17" fill="url(#tg)" clip-path="url(#cr)"/>
<g stroke="#4a4a4a" stroke-width="0.8" fill="none">
<line x1="442.5" y1="605.3" x2="444.8" y2="605.3"/>
<line x1="442.5" y1="581.6" x2="444.8" y2="581.6"/>
<line x1="442.5" y1="558.0" x2="444.8" y2="558.0"/>
<line x1="442.5" y1="534.3" x2="444.8" y2="534.3"/>
<line x1="442.5" y1="510.7" x2="444.8" y2="510.7"/>
<line x1="442.5" y1="487.0" x2="444.8" y2="487.0"/>
<line x1="442.5" y1="463.4" x2="444.8" y2="463.4"/>
<line x1="442.5" y1="439.8" x2="444.8" y2="439.8"/>
<line x1="442.5" y1="416.1" x2="444.8" y2="416.1"/>
<line x1="442.5" y1="392.4" x2="444.8" y2="392.4"/>
<line x1="442.5" y1="368.8" x2="444.8" y2="368.8"/>
<line x1="445.2" y1="605.3" x2="445.2" y2="607.8"/>
<line x1="468.6" y1="605.3" x2="468.6" y2="607.8"/>
<line x1="492.0" y1="605.3" x2="492.0" y2="607.8"/>
<line x1="515.3" y1="605.3" x2="515.3" y2="607.8"/>
<line x1="538.7" y1="605.3" x2="538.7" y2="607.8"/>
<line x1="562.1" y1="605.3" x2="562.1" y2="607.8"/>
<line x1="585.5" y1="605.3" x2="585.5" y2="607.8"/>
<line x1="608.9" y1="605.3" x2="608.9" y2="607.8"/>
<line x1="632.2" y1="605.3" x2="632.2" y2="607.8"/>
<line x1="655.6" y1="605.3" x2="655.6" y2="607.8"/>
<line x1="679.0" y1="605.3" x2="679.0" y2="607.8"/>
</g>
<text x="440.8" y="609.5" font-size="8.8" fill="#303030" text-anchor="end" stroke="#303030" stroke-width="0.2">0</text>
<text x="440.8" y="585.9" font-size="8.8" fill="#303030" text-anchor="end" stroke="#303030" stroke-width="0.2">10</text>
<text x="440.8" y="562.2" font-size="8.8" fill="#303030" text-anchor="end" stroke="#303030" stroke-width="0.2">20</text>
<text x="440.8" y="538.5" font-size="8.8" fill="#303030" text-anchor="end" stroke="#303030" stroke-width="0.2">30</text>
<text x="440.8" y="514.9" font-size="8.8" fill="#303030" text-anchor="end" stroke="#303030" stroke-width="0.2">40</text>
<text x="440.8" y="491.2" font-size="8.8" fill="#303030" text-anchor="end" stroke="#303030" stroke-width="0.2">50</text>
<text x="440.8" y="467.6" font-size="8.8" fill="#303030" text-anchor="end" stroke="#303030" stroke-width="0.2">60</text>
<text x="440.8" y="443.9" font-size="8.8" fill="#303030" text-anchor="end" stroke="#303030" stroke-width="0.2">70</text>
<text x="440.8" y="420.3" font-size="8.8" fill="#303030" text-anchor="end" stroke="#303030" stroke-width="0.2">80</text>
<text x="440.8" y="396.6" font-size="8.8" fill="#303030" text-anchor="end" stroke="#303030" stroke-width="0.2">90</text>
<text x="440.8" y="373.0" font-size="8.8" fill="#303030" text-anchor="end" stroke="#303030" stroke-width="0.2">100</text>
<text x="443.9" y="617.3" font-size="8.8" fill="#303030" text-anchor="middle" stroke="#303030" stroke-width="0.2">−50</text>
<text x="467.3" y="617.3" font-size="8.8" fill="#303030" text-anchor="middle" stroke="#303030" stroke-width="0.2">−40</text>
<text x="490.7" y="617.3" font-size="8.8" fill="#303030" text-anchor="middle" stroke="#303030" stroke-width="0.2">−30</text>
<text x="514.0" y="617.3" font-size="8.8" fill="#303030" text-anchor="middle" stroke="#303030" stroke-width="0.2">−20</text>
<text x="537.4" y="617.3" font-size="8.8" fill="#303030" text-anchor="middle" stroke="#303030" stroke-width="0.2">−10</text>
<text x="562.1" y="617.3" font-size="8.8" fill="#303030" text-anchor="middle" stroke="#303030" stroke-width="0.2">0</text>
<text x="585.5" y="617.3" font-size="8.8" fill="#303030" text-anchor="middle" stroke="#303030" stroke-width="0.2">10</text>
<text x="608.9" y="617.3" font-size="8.8" fill="#303030" text-anchor="middle" stroke="#303030" stroke-width="0.2">20</text>
<text x="632.2" y="617.3" font-size="8.8" fill="#303030" text-anchor="middle" stroke="#303030" stroke-width="0.2">30</text>
<text x="655.6" y="617.3" font-size="8.8" fill="#303030" text-anchor="middle" stroke="#303030" stroke-width="0.2">40</text>
<text x="679.0" y="617.3" font-size="8.8" fill="#303030" text-anchor="middle" stroke="#303030" stroke-width="0.2">50</text>
<text x="562.6" y="632.7" font-size="8.9" fill="#222" text-anchor="middle" stroke="#222" stroke-width="0.25">y in m</text>
<text transform="translate(423 498.2) rotate(-90)" font-size="8.9" fill="#222" stroke="#222" stroke-width="0.25" text-anchor="middle">x in m</text>
<rect x="684.9" y="469.2" width="6.3" height="46.8" fill="url(#cb)" stroke="#303030" stroke-width="0.6"/>
<text y="473.5" font-size="8.7" fill="#222"><tspan x="694.2">8</tspan><tspan x="700.5">×</tspan><tspan x="706.7">10</tspan><tspan x="716.5" dy="-3.8" font-size="6.3">−4</tspan></text>
<text x="694.5" y="520.7" font-size="8.6" fill="#222" text-anchor="start" >0</text>
<text x="570.5" y="651.2" font-size="13" fill="#111" text-anchor="middle" textLength="82" lengthAdjust="spacingAndGlyphs" >Clutter Density</text>
<text x="570.7" y="666.8" font-size="13" fill="#111" text-anchor="middle" textLength="65.3" lengthAdjust="spacingAndGlyphs" >Lidar Model</text>
</g>
</svg></body></html>
